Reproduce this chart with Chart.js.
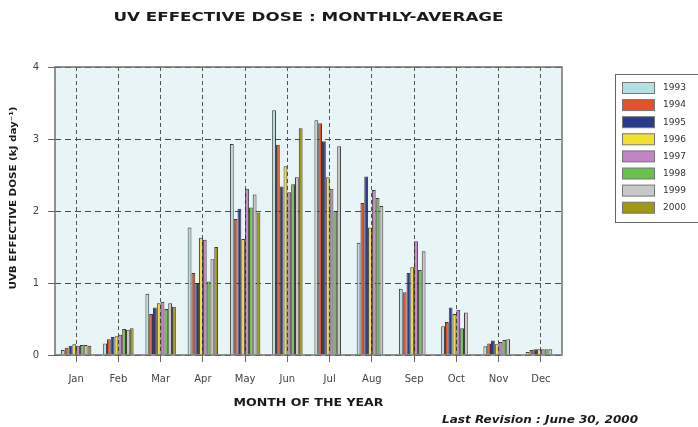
<!DOCTYPE html>
<html>
<head>
<meta charset="utf-8">
<script src="https://cdn.jsdelivr.net/npm/chart.js@4/dist/chart.umd.min.js"></script>
<style>
  html, body { margin: 0; padding: 0; background: #ffffff; }
  #wrap { width: 698px; height: 427px; position: relative; }
</style>
</head>
<body>
<div id="wrap"><canvas id="c" width="698" height="427"></canvas></div>
<script>
// Monthly-average UVB effective dose (kJ day^-1), one array per year
const months = ['Jan', 'Feb', 'Mar', 'Apr', 'May', 'Jun', 'Jul', 'Aug', 'Sep', 'Oct', 'Nov', 'Dec'];
const years = ['1993', '1994', '1995', '1996', '1997', '1998', '1999', '2000'];
const yTicks = [0, 1, 2, 3, 4];

const uv1993 = [0.07, 0.16, 0.85, 1.77, 2.93, 3.40, 3.26, 1.56, 0.92, 0.40, 0.12, 0.04];
const uv1994 = [0.10, 0.22, 0.57, 1.14, 1.89, 2.92, 3.22, 2.11, 0.87, 0.46, 0.16, 0.07];
const uv1995 = [0.13, 0.25, 0.66, 1.00, 2.03, 2.34, 2.97, 2.48, 1.14, 0.66, 0.20, 0.08];
const uv1996 = [0.15, 0.26, 0.72, 1.63, 1.61, 2.62, 2.47, 1.77, 1.22, 0.57, 0.15, 0.08];
const uv1997 = [0.13, 0.28, 0.74, 1.60, 2.31, 2.26, 2.31, 2.29, 1.58, 0.63, 0.18, 0.08];
const uv1998 = [0.14, 0.36, 0.64, 1.02, 2.05, 2.37, 2.00, 2.18, 1.18, 0.37, 0.21, 0.08];
const uv1999 = [0.14, 0.35, 0.72, 1.33, 2.23, 2.47, 2.90, 2.07, 1.44, 0.59, 0.22, 0.08];
const uv2000 = [0.13, 0.37, 0.67, 1.50, 1.98, 3.15, null, null, null, null, null, null];

const seriesValues = [uv1993, uv1994, uv1995, uv1996, uv1997, uv1998, uv1999, uv2000];
const seriesColors = ['#b4e0e4', '#e0522a', '#2a3a8c', '#f2e030', '#c184c4', '#6cc050', '#c8c8c8', '#a09810'];

const TEXT_DARK = '#1a1a1a';

// Draw text widened horizontally so it spans a given width, centred on (cx, cy)
function widenedText(ctx, text, cx, cy, width, font) {
  ctx.save();
  ctx.font = font;
  const w = ctx.measureText(text).width;
  const sx = width / w;
  ctx.translate(cx, cy);
  ctx.scale(sx, 1);
  ctx.textAlign = 'center';
  ctx.textBaseline = 'middle';
  ctx.fillText(text, 0, 0);
  ctx.restore();
}

const decorations = {
  id: 'decorations',
  beforeDraw(chart) {
    const { ctx, chartArea: a } = chart;
    ctx.save();
    ctx.fillStyle = '#e9f4f7';
    ctx.fillRect(a.left, a.top, a.width, a.height);
    ctx.restore();
  },
  afterDraw(chart) {
    const { ctx, chartArea: a } = chart;
    ctx.save();
    // plot frame
    ctx.strokeStyle = '#707070';
    ctx.lineWidth = 1.5;
    ctx.strokeRect(a.left, a.top, a.width, a.height);

    const cx = (a.left + a.right) / 2;
    ctx.fillStyle = TEXT_DARK;
    widenedText(ctx, 'UV EFFECTIVE DOSE : MONTHLY-AVERAGE', cx, 18, 390, 'bold 12px "DejaVu Sans"');
    widenedText(ctx, 'MONTH OF THE YEAR', cx, 403, 150, 'bold 10px "DejaVu Sans"');
    widenedText(ctx, 'Last Revision : June 30, 2000', 540, 420, 196, 'italic bold 10px "DejaVu Sans"');

    ctx.save();
    ctx.translate(14, 198);
    ctx.rotate(-Math.PI / 2);
    widenedText(ctx, 'UVB EFFECTIVE DOSE (kJ day\u207B\u00B9)', 0, 0, 183, 'bold 9px "DejaVu Sans"');
    ctx.restore();

    // legend box
    const lx = 615, ly = 74, lh = 148;
    ctx.fillStyle = '#ffffff';
    ctx.fillRect(lx, ly, 90, lh);
    ctx.strokeStyle = '#666666';
    ctx.lineWidth = 1;
    ctx.strokeRect(lx + 0.5, ly + 0.5, 90, lh);
    chart.data.datasets.forEach((ds, i) => {
      const y = 88 + i * 17.1;
      ctx.fillStyle = ds.backgroundColor;
      ctx.fillRect(622, y - 5.5, 33, 11);
      ctx.strokeStyle = '#777777';
      ctx.strokeRect(622.5, y - 5.5, 32, 11);
      ctx.fillStyle = '#333333';
      ctx.font = '9px "DejaVu Sans"';
      ctx.textAlign = 'left';
      ctx.textBaseline = 'middle';
      ctx.fillText(ds.label, 663, y);
    });
    ctx.restore();
  }
};

new Chart(document.getElementById('c'), {
  type: 'bar',
  data: {
    labels: months,
    datasets: years.map((yr, i) => ({
      label: yr,
      data: seriesValues[i],
      backgroundColor: seriesColors[i],
      borderColor: 'rgba(45,35,35,0.9)',
      borderWidth: 1,
      categoryPercentage: 0.72,
      barPercentage: 1.0
    }))
  },
  options: {
    responsive: false,
    animation: false,
    devicePixelRatio: 1,
    layout: { padding: { left: 0, top: 67, right: 136, bottom: 0 } },
    plugins: {
      legend: { display: false },
      title: { display: false },
      tooltip: { enabled: false }
    },
    scales: {
      x: {
        offset: true,
        grid: {
          offset: false,
          color: '#555555',
          lineWidth: 1,
          tickLength: 7,
          tickBorderDash: [],
          tickColor: '#666666'
        },
        border: { display: false, dash: [4, 3] },
        ticks: {
          color: '#444444',
          font: { family: 'DejaVu Sans', size: 10 },
          padding: 11,
          maxRotation: 0,
          autoSkip: false
        },
        afterFit(scale) { scale.height = 72; }
      },
      y: {
        min: 0,
        max: 4,
        afterBuildTicks(scale) { scale.ticks = yTicks.map(v => ({ value: v })); },
        grid: {
          color: '#4a4a4a',
          lineWidth: 1,
          tickLength: 7,
          tickBorderDash: [],
          tickColor: '#666666'
        },
        border: { display: false, dash: [6, 4] },
        ticks: {
          color: '#444444',
          font: { family: 'DejaVu Sans', size: 10 },
          padding: 9
        },
        afterFit(scale) { scale.width = 55; }
      }
    }
  },
  plugins: [decorations]
});
</script>
</body>
</html>
